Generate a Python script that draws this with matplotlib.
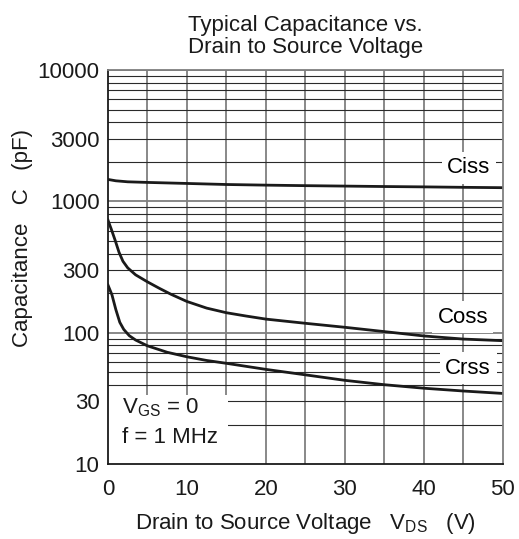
import matplotlib
matplotlib.use("Agg")
import matplotlib.pyplot as plt
from matplotlib.patches import Rectangle
from matplotlib.ticker import FixedLocator, NullFormatter

plt.rcParams['font.family'] = ['Liberation Sans', 'DejaVu Sans']

# Values (VGS = 0, f = 1 MHz)
ciss_v = [0, 1, 2.5, 5, 10, 15, 20, 25, 30, 35, 40, 45, 50]
ciss_c = [1470, 1435, 1410, 1395, 1370, 1345, 1330, 1318, 1308, 1298, 1290, 1280, 1272]

coss_v = [0, 0.4, 0.9, 1.4, 1.9, 2.5, 3.5, 5, 6.5, 8, 10, 12.5, 15, 17.5, 20,
          25, 30, 35, 40, 45, 50]
coss_c = [721, 620, 508, 410, 350, 312, 276, 244, 218, 196, 173, 154, 142, 134, 127,
          118, 110, 102, 94.5, 89.5, 87]

crss_v = [0, 0.5, 1.0, 1.5, 2.0, 2.7, 3.5, 5, 7.5, 10, 12.5, 15, 20, 25, 30,
          35, 40, 45, 50]
crss_c = [231, 195, 150, 120, 106, 95, 88, 79.5, 71, 65.6, 61.5, 58.5, 52.6, 47.8, 43.4,
          40.2, 37.8, 36, 34.5]

y_ticks = [10, 30, 100, 300, 1000, 3000, 10000]
x_ticks = [0, 10, 20, 30, 40, 50]

fig = plt.figure(figsize=(5.19, 5.39), dpi=100)
ax = fig.add_axes([0.208, 0.139, 0.761, 0.731])
ax.set_yscale('log')
ax.set_xlim(0, 50)
ax.set_ylim(10, 10000)

# grid: gray verticals every 5 V, dark log minors, gray decades
for xv in range(5, 50, 5):
    ax.axvline(xv, color='#7f7f7f', lw=1.3, zorder=1)
for dec in [10, 100, 1000]:
    for m in range(2, 10):
        ax.axhline(dec * m, color='#2a2a2a', lw=0.8, zorder=1)
    ax.axhline(dec * 10, color='#7f7f7f', lw=1.3, zorder=1)

ax.plot(ciss_v, ciss_c, color='#1a1a1a', lw=2.0, zorder=3)
ax.plot(coss_v, coss_c, color='#1a1a1a', lw=2.0, zorder=3)
ax.plot(crss_v, crss_c, color='#1a1a1a', lw=2.0, zorder=3)

box = dict(facecolor='white', edgecolor='none', pad=4)
ax.text(45.7, 1800, 'Ciss', fontsize=16, ha='center', va='center', bbox=box, zorder=4)
ax.text(44.9, 131, 'Coss', fontsize=16, ha='center', va='center', bbox=box, zorder=4)
ax.text(45.6, 53.5, 'Crss', fontsize=16, ha='center', va='center', bbox=box, zorder=4)

# conditions box in the lower-left corner
ax.add_patch(Rectangle((0, 10), 15.2, 23.5, facecolor='white', edgecolor='none', zorder=4))
ax.text(1.8, 21.0, '$\\mathregular{V_{GS}}$ = 0\nf = 1 MHz', fontsize=16, ha='left',
        va='center', linespacing=1.5, zorder=5, color='#1a1a1a')

ax.yaxis.set_major_locator(FixedLocator(y_ticks))
ax.yaxis.set_minor_locator(FixedLocator([]))
ax.yaxis.set_minor_formatter(NullFormatter())
ax.set_yticklabels([str(v) for v in y_ticks])
ax.set_xticks(x_ticks)
ax.tick_params(axis='both', length=0, labelsize=16, colors='#1a1a1a')
ax.tick_params(axis='y', pad=6)
ax.tick_params(axis='x', pad=11)

for s in ax.spines.values():
    s.set_color('#7f7f7f')
    s.set_linewidth(1.3)
    s.set_zorder(6)
ax.spines['left'].set_color('#1a1a1a')
ax.spines['bottom'].set_color('#1a1a1a')

ax.set_xlabel('Drain to Source Voltage   $\\mathregular{V_{DS}}$   (V)', fontsize=16, labelpad=8,
              color='#1a1a1a')
ax.set_ylabel('Capacitance   C   (pF)', fontsize=16, color='#1a1a1a')
ax.yaxis.set_label_coords(-0.19, 0.574)
ax.set_title('Typical Capacitance vs.\nDrain to Source Voltage', fontsize=16, pad=12,
             color='#1a1a1a', linespacing=1.1)

fig.savefig('out.png', dpi=100)
